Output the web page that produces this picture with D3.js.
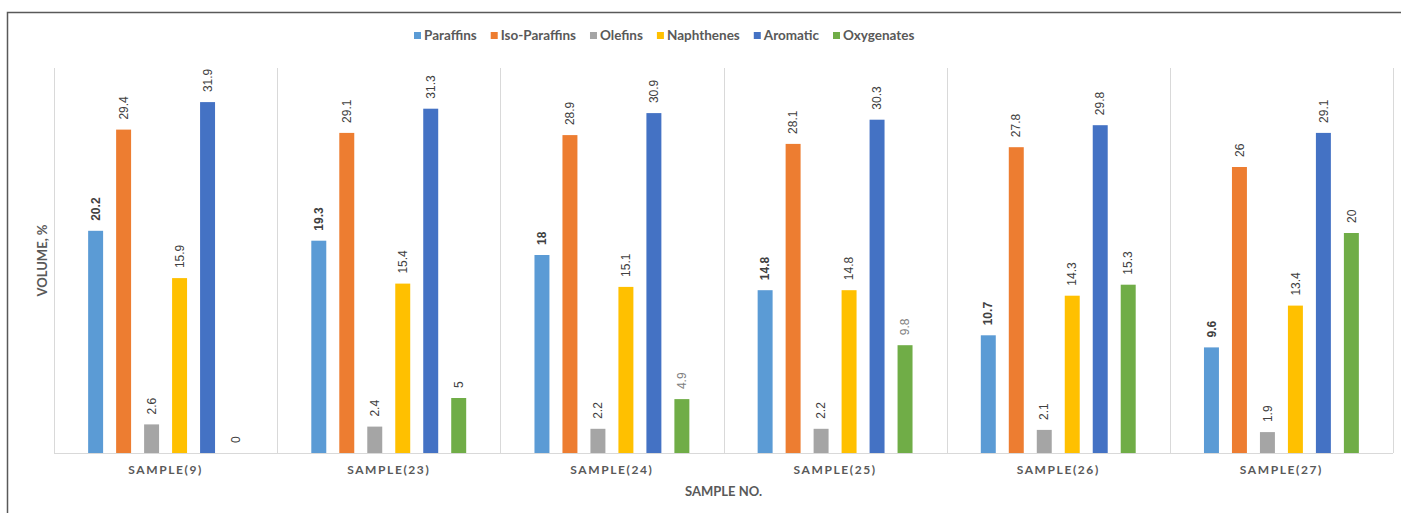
<!DOCTYPE html>
<html>
<head>
<meta charset="utf-8">
<script src="https://cdn.jsdelivr.net/npm/d3@7"></script>
<style>
  body { margin: 0; background: #fff; }
  svg { display: block; }
</style>
</head>
<body>
<div id="chart"></div>
<script>
// chart data
const categories = ["SAMPLE(9)", "SAMPLE(23)", "SAMPLE(24)", "SAMPLE(25)", "SAMPLE(26)", "SAMPLE(27)"];
const seriesNames = ["Paraffins", "Iso-Paraffins", "Olefins", "Naphthenes", "Aromatic", "Oxygenates"];
const paraffins = [20.2, 19.3, 18, 14.8, 10.7, 9.6];
const isoParaffins = [29.4, 29.1, 28.9, 28.1, 27.8, 26];
const olefins = [2.6, 2.4, 2.2, 2.2, 2.1, 1.9];
const naphthenes = [15.9, 15.4, 15.1, 14.8, 14.3, 13.4];
const aromatic = [31.9, 31.3, 30.9, 30.3, 29.8, 29.1];
const oxygenates = [0, 5, 4.9, 9.8, 15.3, 20];

const seriesValues = [paraffins, isoParaffins, olefins, naphthenes, aromatic, oxygenates];
const colors = ["#5B9BD5", "#ED7D31", "#A5A5A5", "#FFC000", "#4472C4", "#70AD47"];

const W = 1401, H = 513;
const margin = { top: 68, right: 8, bottom: 60, left: 54 };

const svg = d3.select("#chart").append("svg")
  .attr("width", W).attr("height", H)
  .attr("viewBox", `0 0 ${W} ${H}`);

// outer chart border
svg.append("rect")
  .attr("x", 7.5).attr("y", 12.5)
  .attr("width", W + 10).attr("height", H + 10)
  .attr("fill", "none")
  .attr("stroke", "#595959")
  .attr("stroke-width", 1.5);

const x0 = d3.scaleBand()
  .domain(categories)
  .range([margin.left, W - margin.right])
  .padding(0);

const x1 = d3.scaleBand()
  .domain(seriesNames)
  .range([0, x0.bandwidth()])
  .paddingInner(0.465)
  .paddingOuter(1.22);

const y = d3.scaleLinear()
  .domain([0, 35])
  .range([H - margin.bottom, margin.top]);

const baseY = y(0);

// vertical category separators
svg.append("g")
  .selectAll("line")
  .data(d3.range(categories.length + 1))
  .join("line")
  .attr("x1", (i) => Math.round(margin.left + i * x0.step()) + 0.5)
  .attr("x2", (i) => Math.round(margin.left + i * x0.step()) + 0.5)
  .attr("y1", y(35))
  .attr("y2", baseY)
  .attr("stroke", "#D9D9D9")
  .attr("stroke-width", 1);

// baseline
svg.append("line")
  .attr("x1", x0.range()[0]).attr("x2", x0.range()[1])
  .attr("y1", Math.round(baseY) + 0.5).attr("y2", Math.round(baseY) + 0.5)
  .attr("stroke", "#D9D9D9");

// bars
const rows = [];
categories.forEach((c, ci) => {
  seriesNames.forEach((s, si) => {
    rows.push({ cat: c, series: s, si, value: seriesValues[si][ci] });
  });
});

const groups = svg.append("g");
groups.selectAll("rect")
  .data(rows)
  .join("rect")
  .attr("x", (d) => x0(d.cat) + x1(d.series))
  .attr("y", (d) => y(d.value))
  .attr("width", x1.bandwidth())
  .attr("height", (d) => baseY - y(d.value))
  .attr("fill", (d) => colors[d.si]);

// value labels, rotated
const lightLabels = { "SAMPLE(24)|Oxygenates": true, "SAMPLE(25)|Oxygenates": true };
groups.selectAll("text")
  .data(rows)
  .join("text")
  .attr("transform", (d) => {
    const cx = x0(d.cat) + x1(d.series) + x1.bandwidth() / 2;
    return `translate(${cx},${y(d.value) - 10}) rotate(-90)`;
  })
  .attr("dy", "0.35em")
  .attr("text-anchor", "start")
  .style("font-family", "'Liberation Sans', Arial, sans-serif")
  .style("font-size", "12px")
  .style("font-weight", (d) => (d.si === 0 ? "bold" : "normal"))
  .attr("fill", (d) => (lightLabels[d.cat + "|" + d.series] ? "#7F7F7F" : "#404040"))
  .text((d) => d.value);

// category labels
svg.append("g")
  .selectAll("text")
  .data(categories)
  .join("text")
  .attr("x", (d) => x0(d) + x0.bandwidth() / 2)
  .attr("y", baseY + 21)
  .attr("text-anchor", "middle")
  .style("font-family", "Lato, 'Open Sans', sans-serif")
  .style("font-size", "12px")
  .style("font-weight", "bold")
  .style("letter-spacing", "1.6px")
  .attr("fill", "#595959")
  .text((d) => d);

// axis titles
svg.append("text")
  .attr("x", (margin.left + W - margin.right) / 2)
  .attr("y", baseY + 43)
  .attr("text-anchor", "middle")
  .style("font-family", "Lato, 'Open Sans', sans-serif")
  .style("font-size", "13px")
  .style("font-weight", "bold")
  .attr("fill", "#595959")
  .text("SAMPLE NO.");

svg.append("text")
  .attr("transform", `translate(47,${(y(35) + baseY) / 2}) rotate(-90)`)
  .attr("text-anchor", "middle")
  .style("font-family", "Lato, 'Open Sans', sans-serif")
  .style("font-size", "13px")
  .style("font-weight", "bold")
  .attr("fill", "#595959")
  .text("VOLUME, %");

// legend
const legend = svg.append("g").attr("transform", "translate(414,35)");
let lx = 0;
seriesNames.forEach((name, i) => {
  const item = legend.append("g").attr("transform", `translate(${lx},0)`);
  item.append("rect")
    .attr("x", 0).attr("y", -3)
    .attr("width", 7).attr("height", 7)
    .attr("fill", colors[i]);
  const t = item.append("text")
    .attr("x", 10)
    .attr("y", 0)
    .attr("dy", "0.35em")
    .style("font-family", "Lato, 'Open Sans', sans-serif")
    .style("font-size", "13.5px")
    .style("font-weight", "bold")
    .attr("fill", "#595959")
    .text(name);
  lx += 10 + t.node().getComputedTextLength() + 14;
});
</script>
</body>
</html>
